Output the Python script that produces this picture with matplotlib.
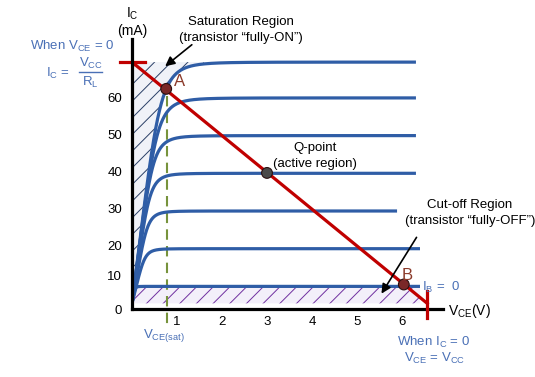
import matplotlib
matplotlib.use("Agg")
import matplotlib.pyplot as plt
import numpy as np

plt.rcParams['font.family'] = ['Liberation Sans', 'DejaVu Sans']
plt.rcParams['mathtext.fontset'] = 'custom'
plt.rcParams['mathtext.rm'] = 'Liberation Sans'
plt.rcParams['hatch.linewidth'] = 0.7

# collector curves: flat level (mA on the drawing scale), knee voltage, end voltage
curve_levels = [4.5, 14.5, 24.5, 34.5, 44.5, 54.5, 64.0]
curve_knees = [0.07, 0.30, 0.36, 0.42, 0.49, 0.59, 0.67]
curve_ends = [6.4, 6.4, 5.89, 6.31, 6.31, 6.31, 6.31]

# load line
vcc = 6.56
ic_max = 64.0
vce_sat = 0.78

# operating points (V, mA)
points_v = [0.76, 3.0, 6.04]
points_i = [56.9, 34.6, 5.0]
points_color = ['#7a2828', '#4a4a4a', '#7a2828']

xtick_pos = [1, 2, 3, 4, 5, 6]
ytick_pos = [-1.5, 7.3, 15.3, 25.2, 34.9, 44.7, 54.6]
ytick_labels = ['0', '10', '20', '30', '40', '50', '60']

W, H = 535, 377
x0, y0 = 132, 309
px_v, px_ma = 45.0, 3.85

blue = '#2f5da6'
tblue = '#4a70b6'
red = '#c00000'
brown = '#8b3a2a'


def curve(v, level, knee):
    k = level / knee
    v = np.maximum(v, 1e-6)
    return (level ** -4 + (k * v) ** -4) ** (-1 / 4)


def put(px, py, s, **kw):
    kw.setdefault('ha', 'center')
    kw.setdefault('va', 'center')
    kw.setdefault('fontsize', 9.5)
    fig.text(px / W, 1 - py / H, s, **kw)


fig = plt.figure(figsize=(W / 100, H / 100), dpi=100)
ax = fig.add_axes([x0 / W, 1 - y0 / H, (443 - x0) / W, (y0 - 39) / H])
ax.set_xlim(0, (443 - x0) / px_v)
ax.set_ylim(0, (y0 - 39) / px_ma)

for s in ['top', 'right']:
    ax.spines[s].set_visible(False)
for s in ['left', 'bottom']:
    ax.spines[s].set_linewidth(2.3)
    ax.spines[s].set_zorder(6)

ax.set_xticks(xtick_pos, [str(t) for t in xtick_pos])
ax.set_yticks(ytick_pos, ytick_labels)
ax.tick_params(length=0, labelsize=9.5)
ax.tick_params(axis='x', pad=5)
ax.tick_params(axis='y', pad=7)

# saturation region
v = np.linspace(0, 1.6, 300)
ax.fill_between(v, curve(v, curve_levels[-1], curve_knees[-1]), ic_max,
                facecolor='#f0f2f8', edgecolor='#2a3f66', hatch='//',
                linewidth=0, zorder=1)
# cut-off region
v = np.linspace(0, 6.4, 500)
ax.fill_between(v, 0, curve(v, curve_levels[0], curve_knees[0]),
                facecolor='#f3effa', edgecolor='#7030a0', hatch='//',
                linewidth=0, zorder=1)

# collector characteristic curves
for level, knee, end in zip(curve_levels, curve_knees, curve_ends):
    v = np.linspace(0, end, 600)
    ax.plot(v, curve(v, level, knee), color=blue, lw=2.3,
            solid_capstyle='butt', zorder=3)

# VCE(sat) dashed line
ax.plot([vce_sat, vce_sat], [55, -5.5], color='#77933c', lw=1.5,
        dashes=(5, 3), clip_on=False, zorder=2)

# load line and end marks
ax.plot([0, vcc], [ic_max, 0], color=red, lw=2.3, zorder=4, clip_on=False)
ax.plot([-0.27, 0.29], [ic_max, ic_max], color=red, lw=2.3, zorder=4,
        clip_on=False)
ax.plot([vcc, vcc], [3.4, -4.0], color=red, lw=2.3, zorder=7, clip_on=False)

ax.scatter(points_v, points_i, s=60, c=points_color, edgecolors='#2a1010',
           linewidths=0.8, zorder=8, clip_on=False)

# labels
put(132, 14, r'$\mathregular{I_C}$', fontsize=10)
put(132, 31, '(mA)', fontsize=10)
put(241, 22, 'Saturation Region')
put(241, 38, '(transistor \u201cfully-ON\u201d)')
fig.add_artist(plt.Annotation('', xy=(163 / W, 1 - 68 / H),
                              xytext=(194 / W, 1 - 43 / H),
                              xycoords='figure fraction',
                              arrowprops=dict(arrowstyle='-|>', color='black',
                                              lw=1.2, mutation_scale=14)))
put(72, 46, r'When $\mathregular{V_{CE}}$ = 0', color=tblue)
put(58, 73, r'$\mathregular{I_C}$ =', color=tblue)
put(91, 63, r'$\mathregular{V_{CC}}$', color=tblue)
put(90, 82, r'$\mathregular{R_L}$', color=tblue)
fig.add_artist(plt.Line2D([79 / W, 102 / W], [1 - 72 / H, 1 - 72 / H],
                          color=tblue, lw=1))
put(180, 82, 'A', color=brown, fontsize=12)
put(407, 275, 'B', color=brown, fontsize=12)
put(315, 148, 'Q-point')
put(315, 164, '(active region)')
put(470, 205, 'Cut-off Region')
put(470, 221, '(transistor \u201cfully-OFF\u201d)')
fig.add_artist(plt.Annotation('', xy=(380 / W, 1 - 296 / H),
                              xytext=(418 / W, 1 - 235 / H),
                              xycoords='figure fraction',
                              arrowprops=dict(arrowstyle='-|>', color='black',
                                              lw=1.2, mutation_scale=14)))
put(422, 287, r'$\mathregular{I_B}$ =  0', color=tblue, ha='left')
put(448, 311, r'$\mathregular{V_{CE}}$(V)', ha='left', fontsize=10)
put(164, 335, r'$\mathregular{V_{CE(sat)}}$', color=tblue)
put(434, 342, r'When $\mathregular{I_C}$ = 0', color=tblue)
put(435, 358, r'$\mathregular{V_{CE}}$ = $\mathregular{V_{CC}}$', color=tblue)

fig.savefig('out.png', dpi=100)
